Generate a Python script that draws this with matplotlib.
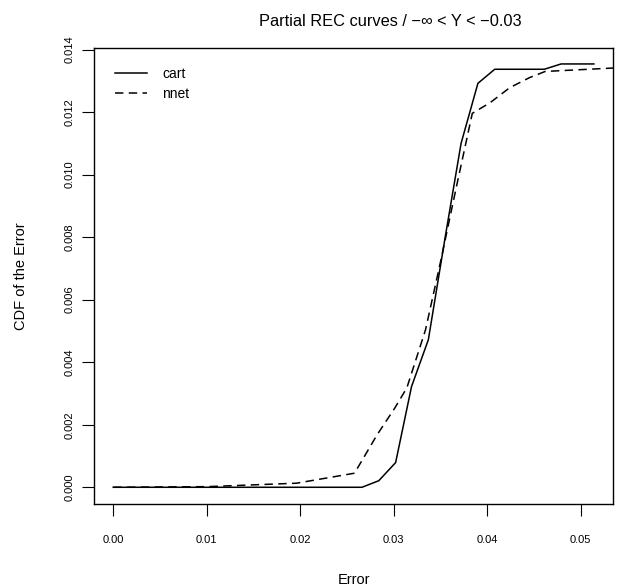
import matplotlib
matplotlib.use("Agg")
import matplotlib.pyplot as plt

plt.rcParams["font.family"] = ["Liberation Sans", "DejaVu Sans"]

# partial REC curves
cart_err = [0.0, 0.0266, 0.0284, 0.0302, 0.0319, 0.0337, 0.0355, 0.0372, 0.0390,
            0.0408, 0.0461, 0.0479, 0.0514]
cart_cdf = [0.0, 0.0, 0.00021, 0.00079, 0.00322, 0.00472, 0.0080, 0.0110, 0.01292,
            0.01337, 0.01337, 0.01354, 0.01354]

nnet_err = [0.0, 0.0100, 0.0196, 0.0258, 0.0282, 0.0301, 0.0314, 0.0334, 0.0350,
            0.0367, 0.0384, 0.0403, 0.0424, 0.0445, 0.0462, 0.0535, 0.0555]
nnet_cdf = [0.0, 0.00002, 0.00013, 0.00045, 0.00167, 0.00253, 0.00318, 0.00504,
            0.00721, 0.00961, 0.01196, 0.0123, 0.01278, 0.01310, 0.0133, 0.01341, 0.01344]

xticks = [0.00, 0.01, 0.02, 0.03, 0.04, 0.05]
yticks = [0.000, 0.002, 0.004, 0.006, 0.008, 0.010, 0.012, 0.014]

fig = plt.figure(figsize=(6.23, 5.86), dpi=100)
ax = fig.add_axes([94 / 623, 1 - 504 / 586, (613.3 - 94) / 623, (504 - 48) / 586])

ax.plot(cart_err, cart_cdf, color="black", lw=1.1, label="cart")
ax.plot(nnet_err, nnet_cdf, color="black", lw=1.1, dashes=(5.5, 3.5), label="nnet")

ax.set_xlim(-0.00206, 0.05348)
ax.set_ylim(-0.000535, 0.01405)
ax.set_xticks(xticks)
ax.set_xticklabels([f"{v:.2f}" for v in xticks])
ax.set_yticks(yticks)
ax.set_yticklabels([f"{v:.3f}" for v in yticks], rotation=90, va="center")
ax.tick_params(axis="both", direction="out", length=8.3, width=0.8, labelsize=8)
ax.tick_params(axis="x", pad=14)
ax.tick_params(axis="y", pad=6)
for s in ax.spines.values():
    s.set_linewidth(1.0)

ax.set_xlabel("Error", fontsize=10.5, labelpad=20)
ax.set_ylabel("CDF of the Error", fontsize=10.5, labelpad=26)
# title sits right of the box centre in the reference
fig.text(390 / 623, 1 - 21 / 586, "Partial REC curves / \u2212\u221e < Y < \u22120.03",
         fontsize=11.8, ha="center", va="center")

ax.legend(loc="upper left", bbox_to_anchor=(0.014, 0.988), frameon=False, fontsize=10,
          handlelength=2.3, handletextpad=1.1, labelspacing=0.4, borderaxespad=0.6)

fig.savefig("out.png", dpi=100)
